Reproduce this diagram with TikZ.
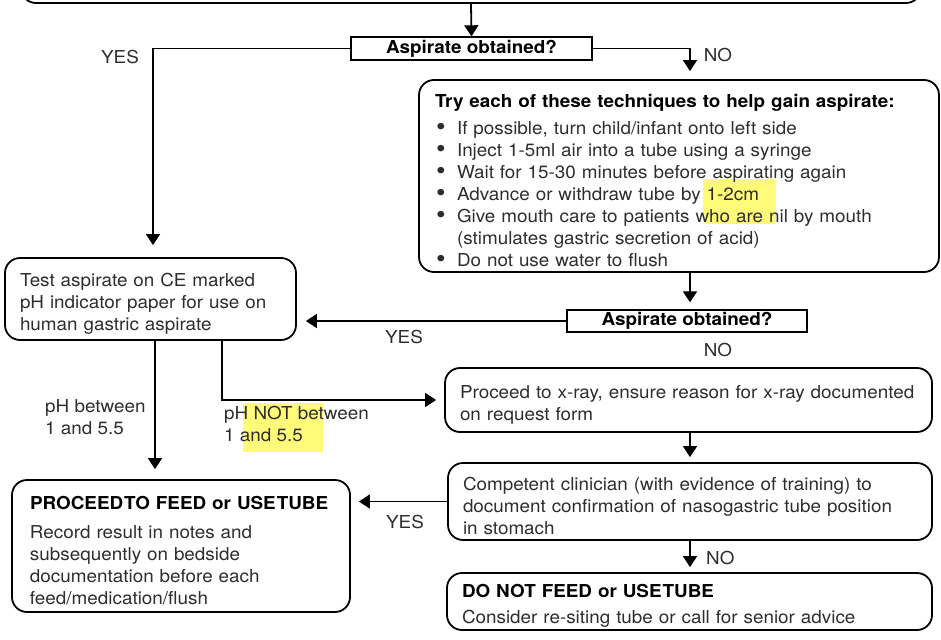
\documentclass[tikz,border=0pt]{standalone}
\usepackage{fontspec}
\setmainfont{TeX Gyre Heros}[FakeStretch=1.06]
\usetikzlibrary{positioning,arrows.meta,calc}
\definecolor{hilite}{RGB}{255,250,120}
\definecolor{ink}{RGB}{45,45,45}
\tikzset{stepbox/.style={draw, line width=1.8pt, rounded corners=15pt, align=left, inner xsep=15pt, inner ysep=0pt, text=ink}}
\tikzset{askbox/.style={draw, line width=1.4pt, inner sep=0pt}}
\tikzset{arr/.style={draw, line width=1.8pt, -{Triangle[width=14pt,length=11pt]}}}
\tikzset{lbl/.style={inner sep=0pt, text=ink, align=left}}
\newcommand{\bul}{\makebox[22pt][l]{\hspace{1pt}\smash{\raisebox{-1.5pt}{\scalebox{1.45}{\textbullet}}}}}
\newcommand{\hd}[1]{\mbox{\textcolor{black}{\textbf{#1}}}}
\newcommand{\tp}{\rule{0pt}{22pt}}

\begin{document}
\begin{tikzpicture}[x=1pt, y=-1pt, font=\fontsize{17.8}{22}\selectfont]
                \clip (0,0) rectangle (941,639);
                %
                \fill[hilite] (703,179) rectangle (776,224);
                \fill[hilite] (243,403) rectangle (323,452);
                %
                \node[stepbox, minimum width=900pt, minimum height=60pt] (top) at (471,-27) {};
                \node[askbox, minimum width=241pt, minimum height=23pt] (dec1) at (471.5,48.5) {\hd{Aspirate obtained?}};
                \node[stepbox, text width=488pt, minimum height=192pt, inner xsep=16pt] (tech) at (679,176)
                    {\tp\hd{Try each of these techniques to help gain aspirate:}\\[5pt]
                     \bul\mbox{If possible, turn child/infant onto left side}\\
                     \bul\mbox{Inject 1-5ml air into a tube using a syringe}\\
                     \bul\mbox{Wait for 15-30 minutes before aspirating again}\\
                     \bul\mbox{Advance or withdraw tube by 1-2cm}\\
                     \bul\mbox{Give mouth care to patients who are nil by mouth}\\
                     \hspace*{22pt}\mbox{(stimulates gastric secretion of acid)}\\
                     \bul\mbox{Do not use water to flush}};
                \node[askbox, minimum width=240pt, minimum height=22pt] (dec2) at (687,321) {\hd{Aspirate obtained?}};
                \node[stepbox, text width=261pt, minimum height=82pt] (test) at (150.5,299)
                    {\tp Test aspirate on CE marked\\pH indicator paper for use on\\human gastric aspirate};
                \node[stepbox, text width=457pt, minimum height=64pt] (xray) at (688.5,400)
                    {\tp\mbox{Proceed to x-ray, ensure reason for x-ray documented}\\on request form};
                \node[stepbox, text width=454pt, minimum height=77pt] (comp) at (690,501.5)
                    {\tp\mbox{Competent clinician (with evidence of training) to}\\\mbox{document confirmation of nasogastric tube position}\\in stomach};
                \node[stepbox, text width=455pt, minimum height=57pt] (dnf) at (689.5,601.5)
                    {\tp\hd{DO NOT FEED or USE\kern1pt TUBE}\\[4pt]Consider re-siting tube or call for senior advice};
                \node[stepbox, text width=302pt, minimum height=132pt, inner xsep=18pt] (feed) at (181,546)
                    {\tp\hd{PROCEED\kern1pt TO FEED or USE\kern1pt TUBE}\\[7pt]Record result in notes and\\subsequently on bedside\\documentation before each\\feed/medication/flush};
                %
                \coordinate (colR) at (690,0);
                \coordinate (yesX) at (153,0);
                \coordinate (phX) at (155,0);
                \coordinate (notX) at (222,0);
                %
                \draw[arr] (top.south) -- (dec1.north);
                \draw[arr, shorten >=12pt] (dec1.west) -| (test.north -| yesX);
                \draw[arr, shorten >=8pt] (dec1.east) -| (tech.north -| colR);
                \draw[arr, shorten >=7pt] (tech.south -| colR) -- (dec2.north -| colR);
                \draw[arr, shorten >=9pt] (dec2.west) -- (dec2.west -| test.east);
                \draw[arr, shorten >=10pt] (test.south -| phX) -- (feed.north -| phX);
                \draw[arr, shorten >=8pt] (test.south -| notX) |- (xray.west);
                \draw[arr, shorten >=5pt] (xray.south -| colR) -- (comp.north -| colR);
                \draw[arr, shorten >=8pt] (comp.west) -- (comp.west -| feed.east);
                \draw[arr, shorten >=5pt] (comp.south -| colR) -- (dnf.north -| colR);
                %
                \node[lbl] (yes1) at (120,57) {YES};
                \node[lbl] (no1) at (718,55) {NO};
                \node[lbl] (yes2) at (404,337) {YES};
                \node[lbl] (no2) at (718,350) {NO};
                \node[lbl, anchor=west] (phin) at (45,417) {pH between\\1 and 5.5};
                \node[lbl, anchor=west] (phout) at (224,424) {pH NOT between\\1 and 5.5};
                \node[lbl] (yes3) at (405,522) {YES};
                \node[lbl, anchor=west] (no3) at (706,558) {NO};
                %
            \end{tikzpicture}
\end{document}
